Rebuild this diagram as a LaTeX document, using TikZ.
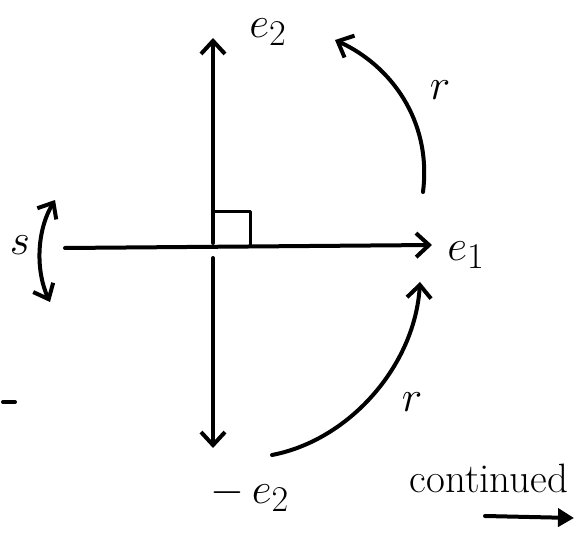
\documentclass[tikz,border=0pt]{standalone}
\usepackage{graphicx}
\usetikzlibrary{arrows.meta}
\newcommand{\biglbl}[1]{\scalebox{1.75}{\Huge$#1$}}
\begin{document}
\begin{tikzpicture}[x=1pt,y=-1pt,line width=4pt,line cap=round,line join=round,
  barb/.style={-{Straight Barb[length=13pt,width=24pt,line width=4pt]}},
  dbarb/.style={{Straight Barb[length=13pt,width=22pt,line width=4pt]}-{Straight Barb[length=13pt,width=22pt,line width=4pt]}},
  tri/.style={-{Triangle[length=16pt,width=18pt]}},
  lbl/.style={inner sep=0pt}]
\useasboundingbox (0,0) rectangle (581,537);
% axes
\coordinate (top) at (213,38);
\coordinate (uo) at (213,243);
\coordinate (lo) at (213,258);
\coordinate (bot) at (213,448);
\coordinate (left) at (65,248);
\coordinate (right) at (432,245);
\draw[barb] (uo) -- (top);
\draw[barb] (lo) -- (bot);
\draw[barb] (left) -- (right);
% right angle
\coordinate (ra1) at (215,212);
\coordinate (ra2) at (250,212);
\coordinate (ra3) at (250,245);
\draw[line width=3pt] (ra1) -- (ra2) -- (ra3);
% labels
\node[lbl] (e2) at (268,32) {\biglbl{e_2}};
\node[lbl] (e1) at (466,255) {\biglbl{e_1}};
\node[lbl] (me2) at (250,495) {\biglbl{-\,e_2}};
\node[lbl] (s) at (20,245) {\biglbl{s}};
\node[lbl] (r1) at (440,90) {\biglbl{r}};
\node[lbl] (r2) at (412,402) {\biglbl{r}};
\node[inner sep=0pt] (cont) at (489,478) {\scalebox{1.65}{\Huge continued}};
% arcs
\coordinate (a1s) at (423,192);
\coordinate (a1e) at (335,40);
\draw[barb] (a1s) .. controls (432,120) and (390,65) .. (a1e);
\coordinate (a2s) at (272,455);
\coordinate (a2e) at (420,282);
\draw[barb] (a2s) .. controls (350,440) and (415,365) .. (a2e);
\coordinate (ss) at (55,200);
\coordinate (se) at (50,302);
\draw[dbarb] (ss) .. controls (36,232) and (36,272) .. (se);
% continued arrow
\coordinate (cs) at (485,516);
\coordinate (ce) at (574,518);
\draw[tri] (cs) -- (ce);
% stray mark
\coordinate (m1) at (3,402);
\coordinate (m2) at (15,402);
\draw (m1) -- (m2);
\end{tikzpicture}
\end{document}
